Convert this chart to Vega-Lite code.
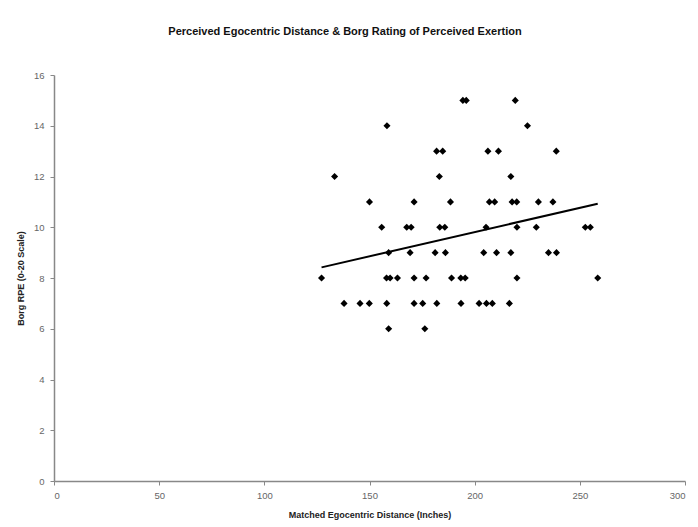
{
  "$schema": "https://vega.github.io/schema/vega-lite/v6.json",
  "autosize": "none",
  "width": 631,
  "height": 406,
  "padding": {"left": 54, "top": 75, "right": 13, "bottom": 46},
  "background": "white",
  "title": {
    "text": "Perceived Egocentric Distance & Borg Rating of Perceived Exertion",
    "font": "Liberation Sans",
    "fontSize": 11,
    "fontWeight": "bold",
    "color": "#111",
    "frame": "bounds",
    "anchor": "middle",
    "offset": 33,
    "dx": -6
  },
  "data": {
    "values": [
      {"distance": 194.4, "rpe": 15}, {"distance": 196.0, "rpe": 15}, {"distance": 219.3, "rpe": 15},
      {"distance": 158.3, "rpe": 14}, {"distance": 225.1, "rpe": 14},
      {"distance": 181.9, "rpe": 13}, {"distance": 184.8, "rpe": 13}, {"distance": 206.3, "rpe": 13}, {"distance": 211.3, "rpe": 13}, {"distance": 238.8, "rpe": 13},
      {"distance": 133.4, "rpe": 12}, {"distance": 183.2, "rpe": 12}, {"distance": 217.2, "rpe": 12},
      {"distance": 150.0, "rpe": 11}, {"distance": 171.2, "rpe": 11}, {"distance": 188.5, "rpe": 11}, {"distance": 207.0, "rpe": 11}, {"distance": 209.5, "rpe": 11}, {"distance": 217.8, "rpe": 11}, {"distance": 220.0, "rpe": 11}, {"distance": 230.3, "rpe": 11}, {"distance": 237.2, "rpe": 11},
      {"distance": 155.8, "rpe": 10}, {"distance": 167.7, "rpe": 10}, {"distance": 169.8, "rpe": 10}, {"distance": 183.4, "rpe": 10}, {"distance": 185.8, "rpe": 10}, {"distance": 205.4, "rpe": 10}, {"distance": 220.1, "rpe": 10}, {"distance": 229.3, "rpe": 10}, {"distance": 252.6, "rpe": 10}, {"distance": 255.0, "rpe": 10},
      {"distance": 159.1, "rpe": 9}, {"distance": 169.3, "rpe": 9}, {"distance": 181.2, "rpe": 9}, {"distance": 186.1, "rpe": 9}, {"distance": 204.3, "rpe": 9}, {"distance": 210.4, "rpe": 9}, {"distance": 217.2, "rpe": 9}, {"distance": 235.1, "rpe": 9}, {"distance": 238.9, "rpe": 9},
      {"distance": 127.2, "rpe": 8}, {"distance": 158.1, "rpe": 8}, {"distance": 159.8, "rpe": 8}, {"distance": 163.3, "rpe": 8}, {"distance": 171.2, "rpe": 8}, {"distance": 176.9, "rpe": 8}, {"distance": 189.0, "rpe": 8}, {"distance": 193.4, "rpe": 8}, {"distance": 195.5, "rpe": 8}, {"distance": 220.1, "rpe": 8}, {"distance": 258.5, "rpe": 8},
      {"distance": 137.9, "rpe": 7}, {"distance": 145.5, "rpe": 7}, {"distance": 149.9, "rpe": 7}, {"distance": 158.2, "rpe": 7}, {"distance": 171.2, "rpe": 7}, {"distance": 175.3, "rpe": 7}, {"distance": 182.0, "rpe": 7}, {"distance": 193.5, "rpe": 7}, {"distance": 202.1, "rpe": 7}, {"distance": 205.6, "rpe": 7}, {"distance": 208.4, "rpe": 7}, {"distance": 216.5, "rpe": 7},
      {"distance": 159.1, "rpe": 6}, {"distance": 176.3, "rpe": 6}
    ]
  },
  "encoding": {
    "x": {
      "field": "distance", "type": "quantitative",
      "scale": {"domain": [0, 300], "nice": false, "zero": true},
      "axis": {
        "title": "Matched Egocentric Distance (Inches)",
        "values": [0, 50, 100, 150, 200, 250, 300],
        "grid": false,
        "domainColor": "#888", "domainWidth": 1.5,
        "tickColor": "#888", "tickSize": 4,
        "labelColor": "#666", "labelFont": "Liberation Sans", "labelFontSize": 9.5, "labelPadding": 5,
        "titleFont": "Liberation Sans", "titleFontSize": 9, "titleFontWeight": "bold", "titleColor": "#222",
        "titlePadding": 11
      }
    },
    "y": {
      "field": "rpe", "type": "quantitative",
      "scale": {"domain": [0, 16], "nice": false, "zero": true},
      "axis": {
        "title": "Borg RPE (0-20 Scale)",
        "values": [0, 2, 4, 6, 8, 10, 12, 14, 16],
        "grid": false,
        "domainColor": "#888", "domainWidth": 1.5,
        "tickColor": "#888", "tickSize": 4,
        "labelColor": "#666", "labelFont": "Liberation Sans", "labelFontSize": 9.5, "labelPadding": 6,
        "titleFont": "Liberation Sans", "titleFontSize": 9, "titleFontWeight": "bold", "titleColor": "#222",
        "titlePadding": 8
      }
    }
  },
  "layer": [
    {
      "mark": {"type": "point", "shape": "diamond", "filled": true, "color": "black", "size": 50, "opacity": 1}
    },
    {
      "transform": [{"regression": "rpe", "on": "distance"}],
      "mark": {"type": "line", "color": "black", "strokeWidth": 2}
    }
  ],
  "config": {
    "view": {"stroke": null}
  }
}
